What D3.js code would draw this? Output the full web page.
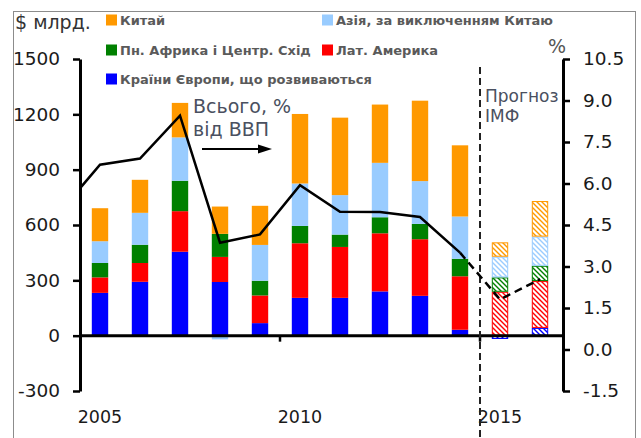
<!DOCTYPE html>
<html>
<head>
<meta charset="utf-8">
<script src="https://cdn.jsdelivr.net/npm/d3@7"></script>
<style>
  body { margin: 0; background: #fff; }
  text { font-family: "DejaVu Sans", sans-serif; }
</style>
</head>
<body>
<div id="chart"></div>
<script>
// data, $ bn
var years = [2005, 2006, 2007, 2008, 2009, 2010, 2011, 2012, 2013, 2014, 2015, 2016];
var europe = [232, 292, 455, 291, 68, 205, 205, 240, 216, 32, -18, 42];
var latAm = [84, 102, 220, 136, 150, 296, 276, 315, 307, 290, 238, 254];
var mena = [78, 99, 165, 125, 80, 94, 67, 87, 83, 95, 78, 83];
var asia = [118, 173, 235, -20, 194, 230, 214, 295, 232, 229, 112, 158];
var china = [179, 179, 187, 148, 212, 377, 420, 316, 436, 386, 78, 193];

// total, % of GDP (first point is 2004, clipped at the axis)
var gdpYears = [2004, 2005, 2006, 2007, 2008, 2009, 2010, 2011, 2012, 2013, 2014];
var gdpShare = [4.98, 6.68, 6.90, 8.45, 3.86, 4.16, 5.94, 4.98, 4.97, 4.79, 3.50];
var forecastYears = [2014, 2015, 2016];
var forecastShare = [3.50, 1.81, 2.54];

var leftTicks = [-300, 0, 300, 600, 900, 1200, 1500];
var rightTicks = [-1.5, 0, 1.5, 3, 4.5, 6, 7.5, 9, 10.5];
var yearLabels = [2005, 2010, 2015];
var firstForecast = 2015;

var seriesKeys = ['europe', 'latAm', 'mena', 'asia', 'china'];
var seriesNames = {
    china: 'Китай',
    asia: 'Азія, за виключенням Китаю',
    mena: 'Пн. Африка і Центр. Схід',
    latAm: 'Лат. Америка',
    europe: 'Країни Європи, що розвиваються'
};
var colors = {
    europe: '#0000ff',
    latAm: '#ff0000',
    mena: '#008000',
    asia: '#99ccff',
    china: '#ff9900'
};

var width = 641, height = 438;

var svg = d3.select('#chart').append('svg')
    .attr('width', width)
    .attr('height', height);

// hatch patterns for forecast bars
var defs = svg.append('defs');
seriesKeys.forEach(function(k) {
    var p = defs.append('pattern')
        .attr('id', 'hatch-' + k)
        .attr('patternUnits', 'userSpaceOnUse')
        .attr('width', 5).attr('height', 5);
    p.append('rect').attr('width', 5).attr('height', 5).attr('fill', '#fff');
    p.append('path')
        .attr('d', 'M0,0L5,5M-1,4L1,6M4,-1L6,1')
        .attr('stroke', colors[k])
        .attr('stroke-width', 1.4);
});
defs.append('clipPath').attr('id', 'plotclip')
    .append('rect').attr('x', 80).attr('y', 0).attr('width', 484).attr('height', 438);

// frame
svg.append('rect')
    .attr('x', 13.5).attr('y', 11.5)
    .attr('width', 622).attr('height', 440)
    .attr('fill', 'none')
    .attr('stroke', '#8c8c8c')
    .attr('stroke-width', 1);

// scales
var x = d3.scaleBand().domain(years).range([80, 560])
    .paddingInner(0.59).paddingOuter(0.295);
var yL = d3.scaleLinear().domain([-300, 1500]).range([391, 59]);
var yR = d3.scaleLinear().domain([-1.5, 10.5]).range([391, 59]);
var gap = x.step() - x.bandwidth();
var xc = function(yr) { return x(yr) + x.bandwidth() / 2; };
var xLine = function(yr) { return x.step() * (yr - years[0]) + xc(years[0]); };

// stacked bars
var table = years.map(function(yr, i) {
    return { year: yr, europe: europe[i], latAm: latAm[i], mena: mena[i], asia: asia[i], china: china[i] };
});
var stack = d3.stack().keys(seriesKeys).offset(d3.stackOffsetDiverging);
var layers = stack(table);

svg.append('g').selectAll('g')
    .data(layers)
    .enter().append('g')
    .each(function(layer) {
        d3.select(this).selectAll('rect')
            .data(layer)
            .enter().append('rect')
            .attr('x', function(d) { return x(d.data.year) + (d.data.year >= firstForecast ? 0.5 : 0); })
            .attr('width', function(d) { return x.bandwidth() - (d.data.year >= firstForecast ? 1 : 0); })
            .attr('y', function(d) { return yL(Math.max(d[0], d[1])) + (d.data.year >= firstForecast ? 0.5 : 0); })
            .attr('height', function(d) { return Math.max(0, Math.abs(yL(d[0]) - yL(d[1])) - (d.data.year >= firstForecast ? 1 : 0)); })
            .attr('fill', function(d) { return d.data.year >= firstForecast ? 'url(#hatch-' + layer.key + ')' : colors[layer.key]; })
            .attr('stroke', function(d) { return d.data.year >= firstForecast ? colors[layer.key] : 'none'; })
            .attr('stroke-width', 1);
    });

// x axis line
var y0 = yL(0);
svg.append('line')
    .attr('x1', 80).attr('x2', 563)
    .attr('y1', y0).attr('y2', y0)
    .attr('stroke', '#000').attr('stroke-width', 3);
svg.append('g').selectAll('line')
    .data([2010, 2015])
    .enter().append('line')
    .attr('x1', function(d) { return x(d) - gap / 2; })
    .attr('x2', function(d) { return x(d) - gap / 2; })
    .attr('y1', y0).attr('y2', y0 + 6)
    .attr('stroke', '#000').attr('stroke-width', 2.5);
svg.append('g').selectAll('text')
    .data(yearLabels)
    .enter().append('text')
    .attr('x', function(d) { return xc(d); })
    .attr('y', 423)
    .attr('text-anchor', 'middle')
    .attr('font-size', 17.5)
    .attr('fill', '#1a1a1a')
    .text(function(d) { return d; });

// left axis
var axL = svg.append('g')
    .attr('transform', 'translate(80,0)')
    .call(d3.axisLeft(yL).tickValues(leftTicks).tickSize(7).tickSizeOuter(0).tickPadding(13)
        .tickFormat(function(d) { return String(d); }));
// right axis
var axR = svg.append('g')
    .attr('transform', 'translate(563,0)')
    .call(d3.axisRight(yR).tickValues(rightTicks).tickSize(7).tickSizeOuter(0).tickPadding(13)
        .tickFormat(function(d) { return d.toFixed(1); }));
[axL, axR].forEach(function(ax) {
    ax.select('.domain').attr('stroke-width', 3);
    ax.selectAll('.tick line').attr('stroke-width', 2.5);
    ax.selectAll('.tick text')
        .attr('font-family', '"DejaVu Sans", sans-serif')
        .attr('font-size', 18.5)
        .attr('fill', '#1a1a1a');
});

// forecast divider
svg.append('line')
    .attr('x1', x(firstForecast) - gap / 2).attr('x2', x(firstForecast) - gap / 2)
    .attr('y1', 67).attr('y2', 438)
    .attr('stroke', '#222').attr('stroke-width', 2)
    .attr('stroke-dasharray', '7,4');

// % of GDP line
var line = d3.line()
    .x(function(d) { return xLine(d[0]); })
    .y(function(d) { return yR(d[1]); });
svg.append('path')
    .datum(d3.zip(gdpYears, gdpShare))
    .attr('clip-path', 'url(#plotclip)')
    .attr('d', line)
    .attr('fill', 'none')
    .attr('stroke', '#000')
    .attr('stroke-width', 2.5)
    .attr('stroke-linejoin', 'miter');
svg.append('path')
    .datum(d3.zip(forecastYears, forecastShare))
    .attr('d', line)
    .attr('fill', 'none')
    .attr('stroke', '#000')
    .attr('stroke-width', 2.5)
    .attr('stroke-dasharray', '8,5');

// axis titles
svg.append('text').attr('x', 15).attr('y', 29)
    .attr('font-size', 19).attr('fill', '#333').text('$ млрд.');
svg.append('text').attr('x', 557).attr('y', 53)
    .attr('text-anchor', 'middle')
    .attr('font-size', 19).attr('fill', '#555').text('%');

// annotations
var note = svg.append('text').attr('font-size', 19).attr('fill', '#4a5060');
note.append('tspan').attr('x', 193).attr('y', 113).text('Всього, %');
note.append('tspan').attr('x', 193).attr('y', 136).text('від ВВП');
svg.append('line')
    .attr('x1', 202).attr('x2', 260)
    .attr('y1', 149).attr('y2', 149)
    .attr('stroke', '#000').attr('stroke-width', 2);
svg.append('path')
    .attr('d', 'M258,144.5L272,149L258,153.5Z')
    .attr('fill', '#000');

var fc = svg.append('text').attr('font-size', 17).attr('fill', '#4a5060');
fc.append('tspan').attr('x', 485).attr('y', 102).text('Прогноз');
fc.append('tspan').attr('x', 485).attr('y', 122).text('ІМФ');

// legend
var legendItems = [
    { key: 'china', x: 106, y: 20 },
    { key: 'asia', x: 322, y: 20 },
    { key: 'mena', x: 106, y: 50 },
    { key: 'latAm', x: 322, y: 50 },
    { key: 'europe', x: 106, y: 79 }
];
var lg = svg.append('g').selectAll('g')
    .data(legendItems)
    .enter().append('g')
    .attr('transform', function(d) { return 'translate(' + d.x + ',' + d.y + ')'; });
lg.append('rect')
    .attr('x', 0).attr('y', -5.5)
    .attr('width', 11).attr('height', 11)
    .attr('fill', function(d) { return colors[d.key]; });
lg.append('text')
    .attr('x', 14).attr('y', 5)
    .attr('font-size', 13)
    .attr('font-weight', 'bold')
    .attr('fill', '#5a5a5a')
    .text(function(d) { return seriesNames[d.key]; });
</script>
</body>
</html>
